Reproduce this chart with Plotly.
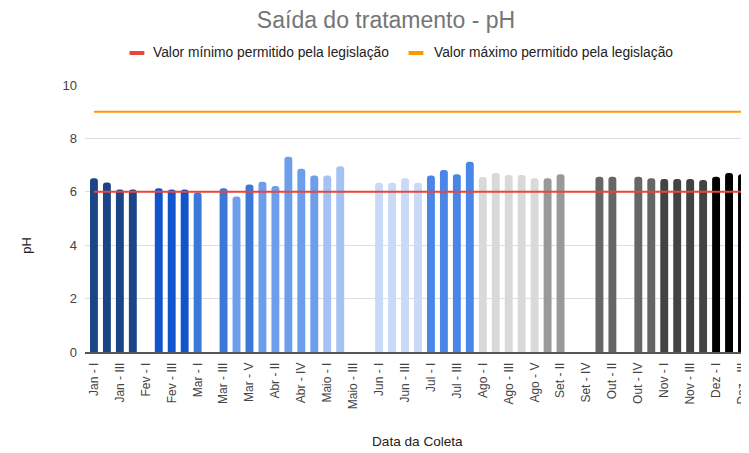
import plotly.graph_objects as go

# ---------------- data ----------------
categories = [
    "Jan - I", "Jan - II", "Jan - III", "Jan - IV",
    "Fev - I", "Fev - II", "Fev - III", "Fev - IV",
    "Mar - I", "Mar - II", "Mar - III", "Mar - IV", "Mar - V",
    "Abr - I", "Abr - II", "Abr - III", "Abr - IV", "Abr - V",
    "Maio - I", "Maio - II", "Maio - III", "Maio - IV",
    "Jun - I", "Jun - II", "Jun - III", "Jun - IV",
    "Jul - I", "Jul - II", "Jul - III", "Jul - IV",
    "Ago - I", "Ago - II", "Ago - III", "Ago - IV", "Ago - V",
    "Set - I", "Set - II", "Set - III", "Set - IV",
    "Out - I", "Out - II", "Out - III", "Out - IV", "Out - V",
    "Nov - I", "Nov - II", "Nov - III", "Nov - IV",
    "Dez - I", "Dez - II", "Dez - III",
]

ph_values = [
    6.51, 6.35, 6.09, 6.09,
    None, 6.13, 6.09, 6.09,
    5.97, None, 6.13, 5.82, 6.27,
    6.38, 6.22, 7.31, 6.86, 6.61,
    6.61, 6.96, None, None,
    6.34, 6.34, 6.51, 6.34,
    6.61, 6.82, 6.66, 7.13,
    6.55, 6.70, 6.63, 6.63, 6.51,
    6.51, 6.66, None, None,
    6.56, 6.56, None, 6.56, 6.51,
    6.48, 6.48, 6.48, 6.44,
    6.56, 6.70, 6.66,
]

tick_labels = categories[::2]

ph_min_allowed = 6.0
ph_max_allowed = 9.0

legend_min = "Valor mínimo permitido pela legislação"
legend_max = "Valor máximo permitido pela legislação"
title_text = "Saída do tratamento - pH"
x_title = "Data da Coleta"
y_title = "pH"

# ---------------- styles ----------------
month_colors = {
    "Jan": "#1c4587", "Fev": "#1155cc", "Mar": "#3c78d8", "Abr": "#6d9eeb",
    "Maio": "#a4c2f4", "Jun": "#c9daf8", "Jul": "#4a86e8", "Ago": "#d9d9d9",
    "Set": "#999999", "Out": "#666666", "Nov": "#434343", "Dez": "#000000",
}
point_color_override = {"Mar - IV": "#6d9eeb"}
bar_colors = [point_color_override.get(c, month_colors[c.split(" - ")[0]]) for c in categories]

RED = "#e8453c"
ORANGE = "#ff9900"
FONT = "Liberation Sans, Arial, sans-serif"

# the page body adds an 8px margin, so the figure is 8px smaller and shifted
OFF = 8
W, H = 749 - OFF, 453 - OFF
L, R, T = 85 - OFF, 0, 85 - OFF
B = H - (352 - OFF)
PW, PH = W - L - R, H - T - B


def px(x):
    """reference pixel x -> paper x"""
    return (x - OFF - L) / PW


def py(y):
    """reference pixel y -> paper y"""
    return (H - B - (y - OFF)) / PH


fig = go.Figure()
fig.add_trace(go.Bar(
    x=categories, y=ph_values, marker=dict(color=bar_colors, line=dict(width=0)),
    showlegend=False,
))
fig.add_trace(go.Scatter(
    x=categories, y=[ph_min_allowed] * len(categories), mode="lines",
    line=dict(color=RED, width=2), name=legend_min, showlegend=False,
))
fig.add_trace(go.Scatter(
    x=categories, y=[ph_max_allowed] * len(categories), mode="lines",
    line=dict(color=ORANGE, width=2), name=legend_max, showlegend=False,
))

# custom legend (short thick dashes like the reference)
shapes = [
    dict(type="line", xref="paper", yref="paper", x0=px(130), x1=px(145), y0=py(53), y1=py(53),
         line=dict(color=RED, width=4)),
    dict(type="line", xref="paper", yref="paper", x0=px(412), x1=px(427), y0=py(53), y1=py(53),
         line=dict(color=ORANGE, width=4)),
]
annotations = [
    dict(text=legend_min, xref="paper", yref="paper", x=px(152), y=py(53), xanchor="left",
         yanchor="middle", showarrow=False, font=dict(family=FONT, size=13.8, color="#222222")),
    dict(text=legend_max, xref="paper", yref="paper", x=px(436), y=py(53), xanchor="left",
         yanchor="middle", showarrow=False, font=dict(family=FONT, size=13.8, color="#222222")),
    dict(text=y_title, xref="paper", yref="paper", x=px(25), y=py(245), xanchor="center",
         yanchor="middle", textangle=-90, showarrow=False,
         font=dict(family=FONT, size=13, color="#222222")),
    dict(text=x_title, xref="paper", yref="paper", x=px(421), y=py(441), xanchor="center",
         yanchor="middle", showarrow=False, font=dict(family=FONT, size=13.6, color="#222222")),
]

fig.update_layout(
    width=W, height=H, autosize=False,
    margin=dict(l=L, r=R, t=T, b=B, pad=0),
    paper_bgcolor="white", plot_bgcolor="white",
    bargap=0.39,
    barcornerradius=3,
    title=dict(text=title_text, xref="container", yref="container",
               x=(386 - OFF) / W, y=1 - (20 - OFF) / H,
               xanchor="center", yanchor="middle",
               font=dict(family=FONT, size=23, color="#757575")),
    shapes=shapes, annotations=annotations,
    font=dict(family=FONT),
)
fig.update_xaxes(
    type="category", range=[-0.69, 50.0],
    tickmode="array", tickvals=tick_labels, ticktext=tick_labels,
    tickangle=-90, tickfont=dict(family=FONT, size=12, color="#444444"),
    showgrid=False, showline=True, linecolor="#555555", linewidth=1.5,
    ticks="", ticklabelstandoff=4,
)
fig.update_yaxes(
    range=[0, 10], tickvals=[0, 2, 4, 6, 8, 10],
    tickfont=dict(family=FONT, size=13, color="#444444"),
    showgrid=True, gridcolor="#dedede", gridwidth=1,
    zeroline=False, showline=False, ticks="", ticklabelstandoff=7,
)

fig.write_html("out.html")
